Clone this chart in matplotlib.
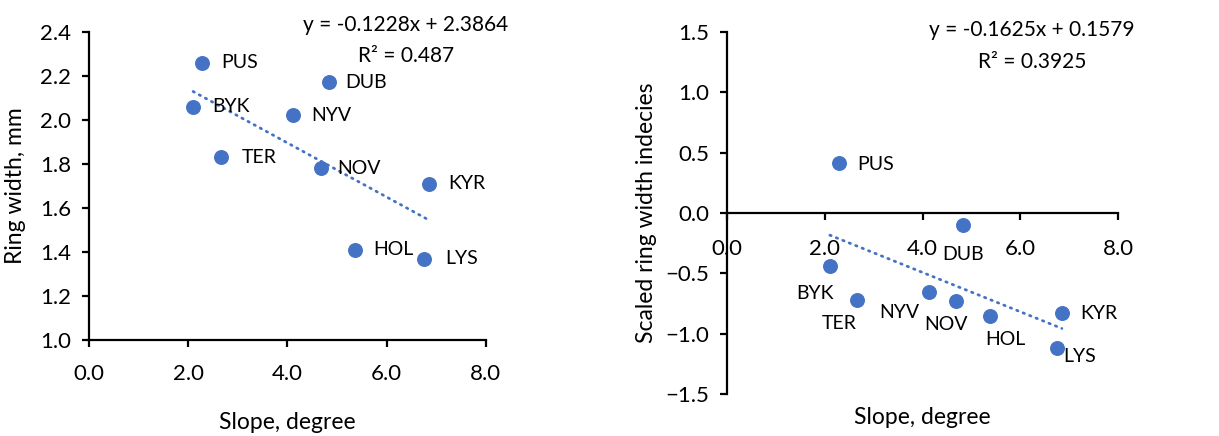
import matplotlib
matplotlib.use('Agg')
import matplotlib.pyplot as plt
import numpy as np

plt.rcParams['font.family'] = ['Lato', 'DejaVu Sans']

BLUE = '#4472C4'

sites = ['PUS', 'BYK', 'TER', 'NYV', 'DUB', 'NOV', 'KYR', 'HOL', 'LYS']
slope = [2.28, 2.10, 2.66, 4.12, 4.83, 4.68, 6.85, 5.37, 6.75]
ring_width = [2.26, 2.06, 1.83, 2.02, 2.17, 1.78, 1.71, 1.41, 1.37]
scaled_index = [0.41, -0.44, -0.72, -0.65, -0.10, -0.73, -0.83, -0.85, -1.12]

# trend line coefficients as printed on the chart
trend_left = (-0.1228, 2.3864, '0.487')
trend_right = (-0.1625, 0.1579, '0.3925')

# label offsets in pixels (dx, dy), dy positive = up
left_offsets = [(38, 0)] * len(sites)
right_offsets = [(37, -1), (-15, -27), (-18, -23), (-29, -21), (0, -29),
                 (-10, -23), (37, 0), (16, -24), (23, -8)]

W, H = 1219, 436
fig = plt.figure(figsize=(W / 100, H / 100), dpi=100)


def px_axes(x0, y0, x1, y1):
    return fig.add_axes([x0 / W, 1 - y1 / H, (x1 - x0) / W, (y1 - y0) / H])


def style(ax):
    for s in ['top', 'right']:
        ax.spines[s].set_visible(False)
    for s in ['left', 'bottom']:
        ax.spines[s].set_linewidth(1.6)
    ax.tick_params(axis='both', direction='out', length=5, width=1.6, labelsize=16)
    ax.tick_params(axis='y', pad=8)


def draw(ax, y, coef, offsets):
    ax.scatter(slope, y, s=95, color=BLUE, zorder=3, clip_on=False)
    xs = np.array([min(slope), max(slope)])
    ax.plot(xs, coef[0] * xs + coef[1], color=BLUE, lw=2, ls=(0, (0.5, 2.0)),
            dash_capstyle='round', zorder=2)
    for name, xv, yv, off in zip(sites, slope, y, offsets):
        ax.annotate(name, (xv, yv), xytext=off, textcoords='offset pixels',
                    ha='center', va='center', fontsize=14)


# left panel
ax1 = px_axes(89, 31.7, 485.7, 340)
style(ax1)
draw(ax1, ring_width, trend_left, left_offsets)
ax1.set_xlim(0, 8)
ax1.set_ylim(1.0, 2.4)
ax1.set_xticks(np.arange(0, 8.1, 2))
ax1.set_yticks(np.arange(1.0, 2.41, 0.2))
ax1.xaxis.set_major_formatter('{x:.1f}')
ax1.yaxis.set_major_formatter('{x:.1f}')
ax1.tick_params(axis='x', pad=12)
ax1.set_xlabel('Slope, degree', fontsize=16.5)
ax1.set_ylabel('Ring width, mm', fontsize=16.5)
ax1.xaxis.set_label_coords(0.5, -0.235)
ax1.yaxis.set_label_coords(-0.16, 0.5)
fig.text(406 / W, 1 - 25 / H, f'y = {trend_left[0]}x + {trend_left[1]}',
         ha='center', va='center', fontsize=15)
fig.text(406 / W, 1 - 56 / H, f'R² = {trend_left[2]}', ha='center', va='center', fontsize=15)

# right panel
ax2 = px_axes(727.3, 31.7, 1118, 394.3)
style(ax2)
draw(ax2, scaled_index, trend_right, right_offsets)
ax2.set_xlim(0, 8)
ax2.set_ylim(-1.5, 1.5)
ax2.spines['bottom'].set_position(('data', 0))
ax2.set_xticks(np.arange(0, 8.1, 2))
ax2.set_yticks(np.arange(-1.5, 1.51, 0.5))
ax2.xaxis.set_major_formatter('{x:.1f}')
ax2.yaxis.set_major_formatter('{x:.1f}')
ax2.tick_params(axis='x', pad=14)
ax2.set_xlabel('Slope, degree', fontsize=16.5)
ax2.set_ylabel('Scaled ring width indecies', fontsize=16.5)
ax2.xaxis.set_label_coords(0.5, -0.035)
ax2.yaxis.set_label_coords(-0.18, 0.5)
fig.text(1032 / W, 1 - 30 / H, f'y = {trend_right[0]}x + {trend_right[1]}',
         ha='center', va='center', fontsize=15)
fig.text(1032 / W, 1 - 62 / H, f'R² = {trend_right[2]}', ha='center', va='center', fontsize=15)

fig.savefig('out.png', dpi=100)
